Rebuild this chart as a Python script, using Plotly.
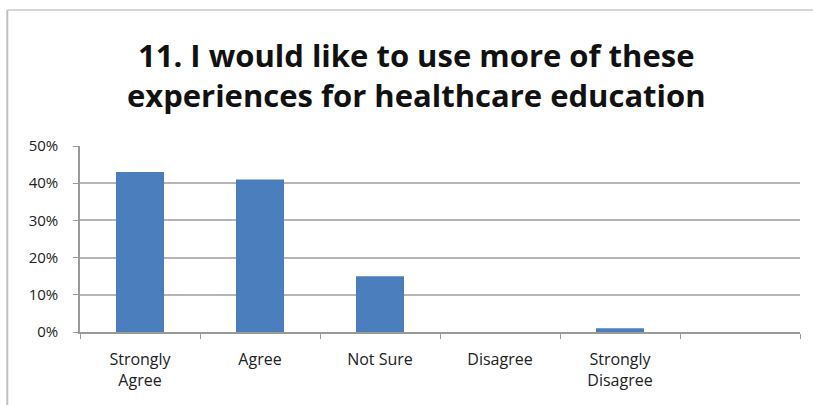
import plotly.graph_objects as go

categories = ["Strongly<br>Agree", "Agree", "Not Sure", "Disagree", "Strongly<br>Disagree", " "]
values = [0.43, 0.41, 0.15, 0.0, 0.01, None]
y_ticks = [0, 0.1, 0.2, 0.3, 0.4, 0.5]

fig = go.Figure()
fig.add_trace(go.Bar(
    x=categories, y=values,
    marker=dict(color="#4a7ebd", line=dict(width=0)),
))

fig.update_layout(
    width=813, height=405,
    margin=dict(l=80, r=13, t=146, b=73),
    paper_bgcolor="white", plot_bgcolor="white",
    showlegend=False,
    bargap=0.6,
    title=dict(
        text="11. I would like to use more of these<br>experiences for healthcare education",
        x=0.512, xanchor="center", y=0.835, yanchor="middle", yref="container",
        font=dict(family="Open Sans", size=31, color="#111111", weight="bold"),
    ),
    font=dict(family="Open Sans", size=15, color="#222222"),
    xaxis=dict(
        type="category", tickson="boundaries", ticks="outside", ticklen=5,
        tickcolor="#9a9a9a", showline=True, linecolor="#9a9a9a", linewidth=1.5,
        showgrid=False, tickfont=dict(size=16), ticklabelstandoff=12,
    ),
    yaxis=dict(
        range=[0, 0.5], tickvals=y_ticks, tickformat=".0%", ticks="outside",
        ticklen=5, tickcolor="#9a9a9a", showline=True, linecolor="#9a9a9a",
        linewidth=1.5, showgrid=True, gridcolor="#b4b4b4", gridwidth=1.5,
        zeroline=False, tickfont=dict(size=15), ticklabelstandoff=12,
    ),
    shapes=[
        dict(type="line", xref="paper", yref="paper", x0=-0.101, x1=1.1,
             y0=1.731, y1=1.731, line=dict(color="#c8c8c8", width=1.5)),
        dict(type="line", xref="paper", yref="paper", x0=-0.101, x1=-0.101,
             y0=1.731, y1=-0.5, line=dict(color="#c0c0c0", width=2)),
    ],
)

fig.write_html("out.html")
